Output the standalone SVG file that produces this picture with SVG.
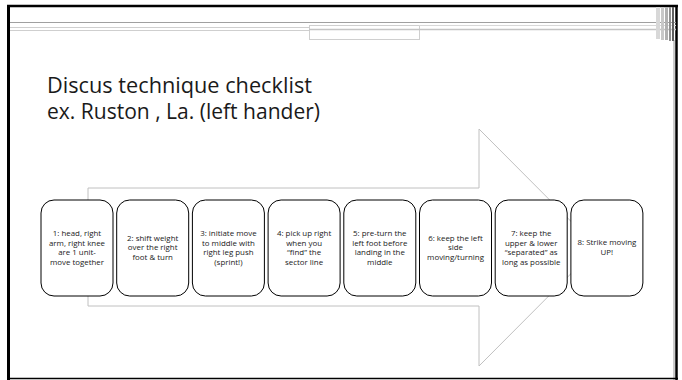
<svg xmlns="http://www.w3.org/2000/svg" width="682" height="380" viewBox="0 0 682 380">
<style>
.box{fill:#fff;stroke:#000;stroke-width:1}
.t{font-family:"Open Sans","Liberation Sans",sans-serif;font-size:7.9px;fill:#1a1a1a;text-anchor:middle}
.title{font-family:"Open Sans","Liberation Sans",sans-serif;font-size:21px;fill:#1a1a1a}
</style>
<rect x="0" y="0" width="682" height="380" fill="#fff"/>
<g id="frame">
<line x1="8.5" y1="5" x2="8.5" y2="380" stroke="#000" stroke-width="3"/>
<line x1="7" y1="6" x2="678" y2="6" stroke="#000" stroke-width="2.5"/>
<line x1="676.5" y1="5" x2="676.5" y2="380" stroke="#000" stroke-width="2.5"/>
<line x1="674" y1="40" x2="674" y2="380" stroke="#999" stroke-width="1"/>
<line x1="8" y1="378.5" x2="678" y2="378.5" stroke="#000" stroke-width="1.5"/>
<line x1="10" y1="22.5" x2="676" y2="22.5" stroke="#a0a0a0" stroke-width="1"/>
<line x1="10" y1="27.5" x2="309" y2="27.5" stroke="#cfcfcf" stroke-width="1"/>
<line x1="10" y1="30.5" x2="309" y2="30.5" stroke="#cfcfcf" stroke-width="1"/>
<rect x="309.5" y="25.5" width="110" height="14" fill="none" stroke="#cfcfcf" stroke-width="1"/>
<line x1="309" y1="29.5" x2="676" y2="29.5" stroke="#c4c4c4" stroke-width="1.5"/>
<line x1="419" y1="25.5" x2="676" y2="25.5" stroke="#d8d8d8" stroke-width="1"/>
<rect x="656" y="7" width="4" height="32" fill="#d8d8d8"/>
<rect x="661" y="7" width="3" height="33" fill="#c8c8c8"/>
<rect x="665" y="7" width="3" height="33" fill="#b0b0b0"/>
<rect x="669" y="7" width="2" height="34" fill="#909090"/>
<rect x="672" y="7" width="2" height="34" fill="#606060"/>
</g>
<g id="title">
<text class="title" x="47" y="93" textLength="265" lengthAdjust="spacingAndGlyphs">Discus technique checklist</text>
<text class="title" x="47" y="119" textLength="273" lengthAdjust="spacingAndGlyphs">ex. Ruston , La. (left hander)</text>
</g>
<g id="arrow">
<polygon points="88,188 479,188 479,129 597,247.5 479,366 479,306 88,306" fill="#fff" stroke="#c0c0c0" stroke-width="1"/>
</g>
<g id="n1"><rect class="box" x="41" y="200" width="72" height="96" rx="13"/>
<text class="t" x="77" y="236"><tspan x="77">1: head, right</tspan><tspan x="77" dy="9.5">arm, right knee</tspan><tspan x="77" dy="9.5">are 1 unit-</tspan><tspan x="77" dy="9.5">move together</tspan></text></g>
<g id="n2"><rect class="box" x="116.7" y="200" width="72" height="96" rx="13"/>
<text class="t" x="152.7" y="240.5"><tspan x="152.7">2: shift weight</tspan><tspan x="152.7" dy="9.5">over the right</tspan><tspan x="152.7" dy="9.5">foot &amp; turn</tspan></text></g>
<g id="n3"><rect class="box" x="192.4" y="200" width="72" height="96" rx="13"/>
<text class="t" x="228.4" y="236"><tspan x="228.4">3: initiate move</tspan><tspan x="228.4" dy="9.5">to middle with</tspan><tspan x="228.4" dy="9.5">right leg push</tspan><tspan x="228.4" dy="9.5">(sprint!)</tspan></text></g>
<g id="n4"><rect class="box" x="268.1" y="200" width="72" height="96" rx="13"/>
<text class="t" x="304.1" y="236"><tspan x="304.1">4: pick up right</tspan><tspan x="304.1" dy="9.5">when you</tspan><tspan x="304.1" dy="9.5">“find” the</tspan><tspan x="304.1" dy="9.5">sector line</tspan></text></g>
<g id="n5"><rect class="box" x="343.8" y="200" width="72" height="96" rx="13"/>
<text class="t" x="379.8" y="236"><tspan x="379.8">5: pre-turn the</tspan><tspan x="379.8" dy="9.5">left foot before</tspan><tspan x="379.8" dy="9.5">landing in the</tspan><tspan x="379.8" dy="9.5">middle</tspan></text></g>
<g id="n6"><rect class="box" x="419.5" y="200" width="72" height="96" rx="13"/>
<text class="t" x="455.5" y="240.5"><tspan x="455.5">6: keep the left</tspan><tspan x="455.5" dy="9.5">side</tspan><tspan x="455.5" dy="9.5">moving/turning</tspan></text></g>
<g id="n7"><rect class="box" x="495.2" y="200" width="72" height="96" rx="13"/>
<text class="t" x="531.2" y="236"><tspan x="531.2">7: keep the</tspan><tspan x="531.2" dy="9.5">upper &amp; lower</tspan><tspan x="531.2" dy="9.5">“separated” as</tspan><tspan x="531.2" dy="9.5">long as possible</tspan></text></g>
<g id="n8"><rect class="box" x="570.9" y="200" width="72" height="96" rx="13"/>
<text class="t" x="606.9" y="245"><tspan x="606.9">8: Strike moving</tspan><tspan x="606.9" dy="9.5">UP!</tspan></text></g>
</svg>
